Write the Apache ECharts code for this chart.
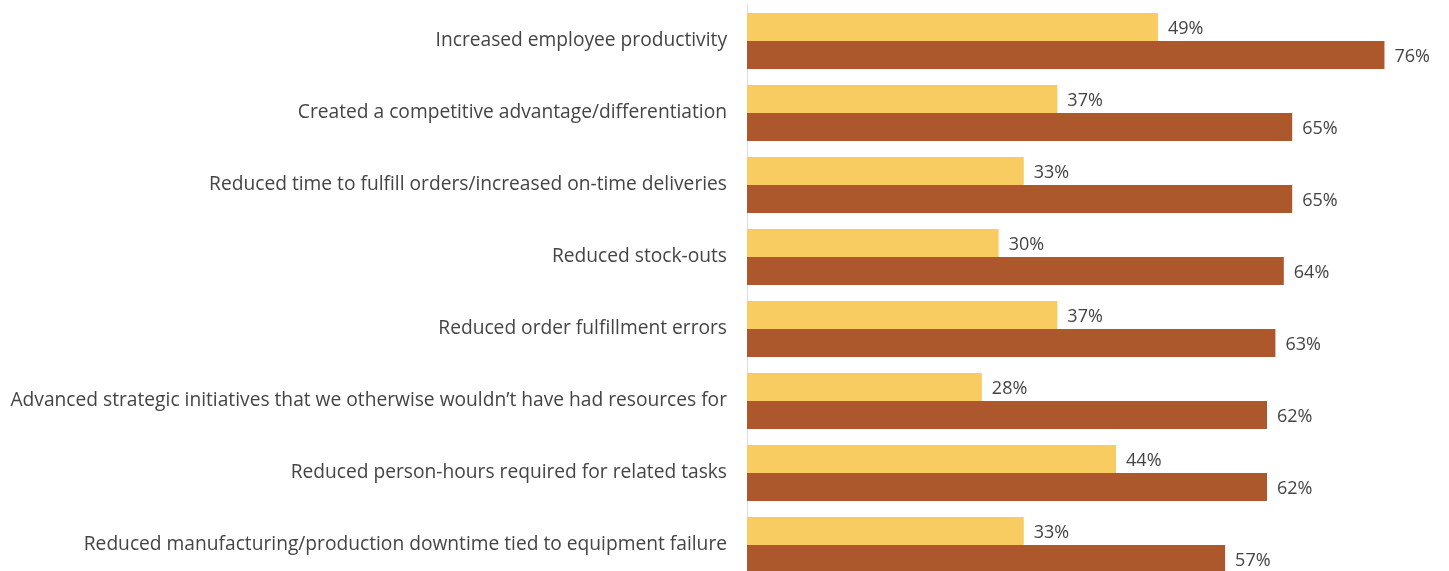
<!DOCTYPE html>
<html>
<head>
<meta charset="utf-8">
<script src="https://cdn.jsdelivr.net/npm/echarts@6/dist/echarts.min.js"></script>
<style>
  html, body { margin: 0; padding: 0; background: #ffffff; }
  #chart { width: 1449px; height: 571px; }
</style>
</head>
<body>
<div id="chart"></div>
<script>
// Outcome categories, top to bottom
const categories = [
  "Increased employee productivity",
  "Created a competitive advantage/differentiation",
  "Reduced time to fulfill orders/increased on-time deliveries",
  "Reduced stock-outs",
  "Reduced order fulfillment errors",
  "Advanced strategic initiatives that we otherwise wouldn\u2019t have had resources for",
  "Reduced person-hours required for related tasks",
  "Reduced manufacturing/production downtime tied to equipment failure"
];
// Percent values for the two groups
const seriesA = [49, 37, 33, 30, 37, 28, 44, 33];
const seriesB = [76, 65, 65, 64, 63, 62, 62, 57];

const textColor = "#444444";
const fontFamily = "'Open Sans', 'Noto Sans', sans-serif";

const chart = echarts.init(document.getElementById("chart"), null, { renderer: "canvas" });

const labelCfg = {
  show: true,
  position: "right",
  distance: 10,
  color: textColor,
  fontSize: 18,
  fontFamily: fontFamily,
  offset: [0, 2],
  formatter: p => p.value + "%"
};

chart.setOption({
  animation: false,
  backgroundColor: "#ffffff",
  grid: {
    left: 747, right: 31, top: 5, height: 576,
    containLabel: false,
    outerBoundsMode: "none"
  },
  xAxis: {
    type: "value",
    min: 0,
    max: 80,
    show: false
  },
  yAxis: {
    type: "category",
    inverse: true,
    data: categories,
    axisLine: { show: true, lineStyle: { color: "#dddddd", width: 1 } },
    axisTick: { show: false },
    axisLabel: {
      margin: 20,
      color: textColor,
      fontSize: 19.2,
      fontFamily: fontFamily
    }
  },
  series: [
    {
      type: "bar",
      data: seriesA,
      barWidth: 28,
      barGap: "0%",
      itemStyle: { color: "#F9CC62" },
      label: labelCfg
    },
    {
      type: "bar",
      data: seriesB,
      barWidth: 28,
      barGap: "0%",
      itemStyle: { color: "#AD572C" },
      label: labelCfg
    }
  ]
});
</script>
</body>
</html>
